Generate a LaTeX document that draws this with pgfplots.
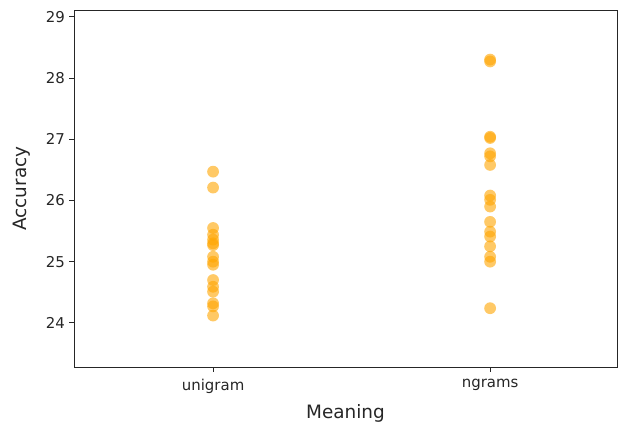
\documentclass[border=0pt]{standalone}
\usepackage{pgfplots}
\pgfplotsset{compat=1.18}
\usepackage{fontspec}
\setmainfont{DejaVu Sans}
\definecolor{mplorange}{RGB}{255,165,0}
\begin{document}
\begin{tikzpicture}
\begin{axis}[
  at={(0,0)}, anchor=south west,
  scale only axis,
  width=543bp, height=357bp,
  xmin=-0.502, xmax=1.458,
  ymin=23.28, ymax=29.11,
  xtick={0,1}, xticklabels={unigram,ngrams},
  ytick={24,25,26,27,28,29},
  tick align=outside,
  tick pos=left,
  major tick length=4.5bp,
  tick style={black!85, line width=0.9bp},
  axis line style={black!85, line width=0.9bp},
  /pgf/number format/assume math mode=true,
  tick label style={font=\fontsize{15}{18}\selectfont, text=black!85},
  xticklabel style={yshift=-4bp},
  yticklabel style={xshift=-1bp},
  xlabel={Meaning}, ylabel={Accuracy},
  label style={font=\fontsize{18.5}{22}\selectfont, text=black!85},
  xlabel style={at={(axis description cs:0.5,-0.1429)}, anchor=base},
  ylabel style={at={(axis description cs:-0.0967,0.5)}, anchor=center},
]
\addplot[only marks, mark=*, mark size=5.9bp, draw=none, fill=mplorange, fill opacity=0.6,
  mark options={draw=none, draw opacity=0, fill=mplorange, fill opacity=0.6}]
coordinates {
(0,26.47) (0,26.21) (0,25.55) (0,25.44) (0,25.36) (0,25.30) (0,25.27)
(0,25.08) (0,25.00) (0,24.95) (0,24.70) (0,24.59) (0,24.51)
(0,24.32) (0,24.27) (0,24.12)
(1,28.30) (1,28.27) (1,27.04) (1,27.02) (1,26.77) (1,26.72) (1,26.58)
(1,26.08) (1,26.01) (1,25.90) (1,25.65) (1,25.49) (1,25.41)
(1,25.25) (1,25.08) (1,25.00) (1,24.24)
};
\end{axis}
\pgfresetboundingbox
\path[use as bounding box] (-74bp,-56bp) rectangle (545bp,367bp);
\end{tikzpicture}
\end{document}
